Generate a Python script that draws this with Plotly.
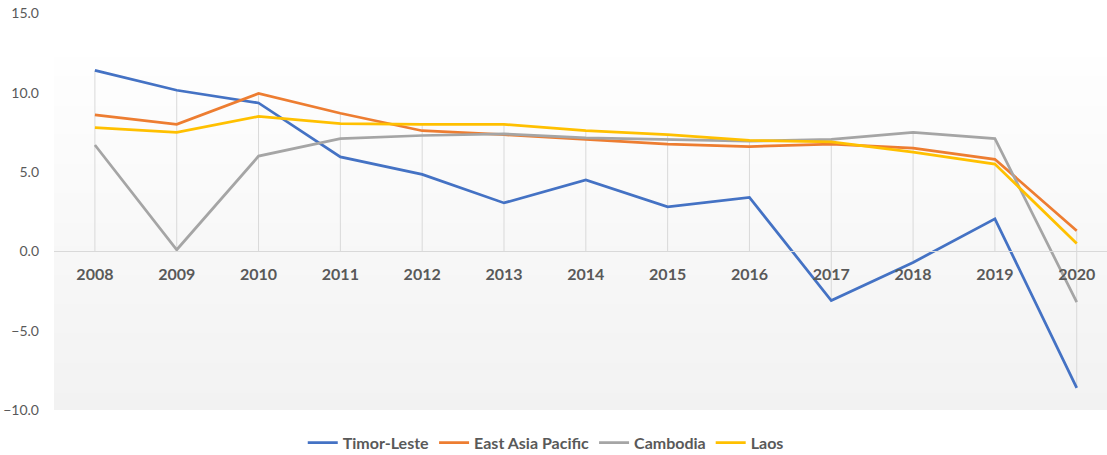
import plotly.graph_objects as go

years = ["2008", "2009", "2010", "2011", "2012", "2013", "2014", "2015", "2016", "2017", "2018", "2019", "2020"]
timor_leste = [11.4, 10.15, 9.35, 5.95, 4.85, 3.05, 4.5, 2.8, 3.4, -3.1, -0.7, 2.05, -8.6]
east_asia_pacific = [8.6, 8.0, 9.95, 8.7, 7.6, 7.35, 7.05, 6.75, 6.6, 6.75, 6.5, 5.8, 1.3]
cambodia = [6.7, 0.1, 6.0, 7.1, 7.3, 7.4, 7.15, 7.05, 6.95, 7.05, 7.5, 7.1, -3.2]
laos = [7.8, 7.5, 8.5, 8.05, 8.0, 8.0, 7.6, 7.35, 7.0, 6.9, 6.25, 5.5, 0.5]
y_ticks = [-10, -5, 0, 5, 10, 15]

series = [
    ("Timor-Leste", timor_leste, "#4472C4"),
    ("East Asia Pacific", east_asia_pacific, "#ED7D31"),
    ("Cambodia", cambodia, "#A5A5A5"),
    ("Laos", laos, "#FFC000"),
]

fig = go.Figure()

# drop lines: from the highest / lowest point down/up to the category axis
dx, dy = [], []
for i, yr in enumerate(years):
    vals = [s[1][i] for s in series]
    dx += [yr, yr, None]
    dy += [max(0, max(vals)), min(0, min(vals)), None]
fig.add_trace(go.Scatter(x=dx, y=dy, mode="lines", line=dict(color="#d9d9d9", width=1),
                         showlegend=False, hoverinfo="skip"))

for name, vals, color in series:
    fig.add_trace(go.Scatter(x=years, y=vals, name=name, mode="lines",
                             line=dict(color=color, width=2.75)))

# gradient background of the plot area
n = 60
top = 0.886
for k in range(n):
    t = k / (n - 1)
    c0 = (242, 242, 242)
    c1 = (254, 254, 254)
    col = tuple(round(c0[j] + (c1[j] - c0[j]) * t) for j in range(3))
    fig.add_shape(type="rect", xref="paper", yref="paper", x0=0, x1=1,
                  y0=top * k / n, y1=top * (k + 1) / n + 0.002,
                  fillcolor="rgb(%d,%d,%d)" % col, line=dict(width=0), layer="below")

fig.update_layout(
    width=1107, height=455,
    margin=dict(l=54, r=0, t=12.5, b=44.5, autoexpand=False),
    paper_bgcolor="white", plot_bgcolor="rgba(0,0,0,0)",
    font=dict(family="Lato", color="#595959", size=14),
    showlegend=True,
    legend=dict(orientation="h", xref="container", yref="container",
                x=0.493, xanchor="center", y=0.027, yanchor="middle",
                font=dict(size=16, color="#595959", family="Lato", weight="bold"),
                itemwidth=30, tracegroupgap=0),
    xaxis=dict(type="category", range=[-0.5, 12.37], showgrid=False,
               showline=True, linecolor="#d9d9d9", linewidth=1,
               anchor="free", position=0.4, ticks="outside", ticklen=9,
               tickcolor="rgba(0,0,0,0)",
               tickfont=dict(family="Lato", size=16, color="#595959", weight="bold"),
               zeroline=False),
    yaxis=dict(range=[-10, 15.02], tickvals=y_ticks, tickformat=".1f", showgrid=False,
               zeroline=False, showline=False, ticks="", ticklabelstandoff=14,
               tickfont=dict(family="Lato", size=14, color="#595959")),
)

fig.write_html("out.html", config={"displayModeBar": False},
               post_script="document.body.style.margin='0';")
